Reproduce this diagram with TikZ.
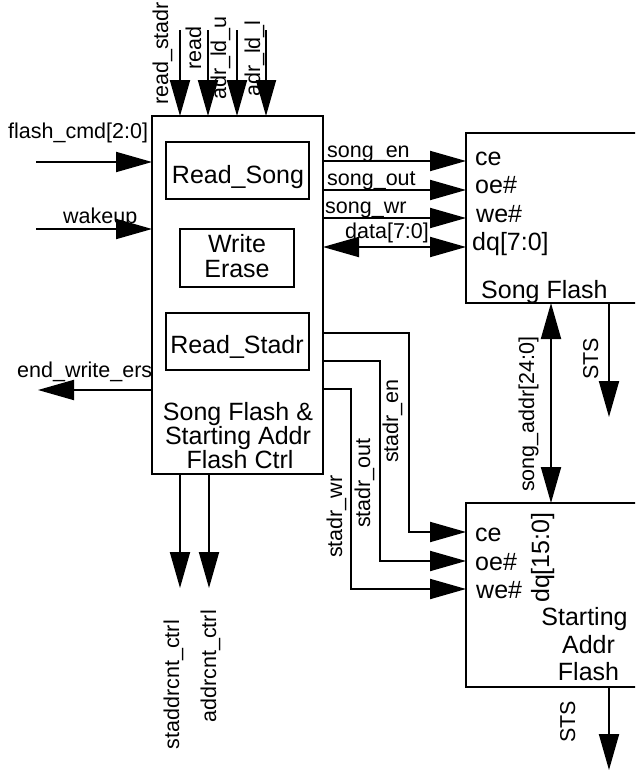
\documentclass[tikz,border=0pt]{standalone}
\usepackage{fontspec}
\setmainfont{Liberation Sans}
\usetikzlibrary{arrows.meta}
\begin{document}
\begin{tikzpicture}[x=1pt,y=-1pt,
  blk/.style={draw,line width=2.2pt,inner sep=0pt,outer sep=0pt},
  wire/.style={line width=2pt},
  arr/.style={wire,-{Triangle[length=36pt,width=20pt]}},
  barr/.style={wire,{Triangle[length=36pt,width=20pt]}-{Triangle[length=36pt,width=20pt]}},
  sm/.style={font=\fontsize{21.5}{24}\selectfont,inner sep=0pt},
  lg/.style={font=\fontsize{25}{27}\selectfont,inner sep=0pt}]
\useasboundingbox (0,0) rectangle (635,771);
\clip (0,0) rectangle (635,771);
\fill[white] (0,0) rectangle (635,771);

% main controller
\node[blk,minimum width=171pt,minimum height=358pt] (main) at (237.5,295) {};
\node[blk,minimum width=143pt,minimum height=57pt] (rsong) at (237.5,170.5) {};
\node[lg,anchor=base] (trsong) at (238,183) {Read\_Song};
\node[blk,minimum width=114pt,minimum height=58pt] (wer) at (237,258) {};
\node[lg,anchor=base] (twr) at (237,252) {Write};
\node[lg,anchor=base] (ter) at (237,277) {Erase};
\node[blk,minimum width=143pt,minimum height=57pt] (rstad) at (237.5,341.5) {};
\node[lg,anchor=base] (trstad) at (237,353) {Read\_Stadr};
\node[lg,anchor=base] (tm1) at (238,420) {Song Flash \&};
\node[lg,anchor=base] (tm2) at (238,444) {Starting Addr};
\node[lg,anchor=base] (tm3) at (240,468) {Flash Ctrl};

% song flash
\node[blk,minimum width=250pt,minimum height=170pt,anchor=north west] (sf) at (466,133) {};
\node[lg,anchor=base west] (sfce) at (475,165) {ce};
\node[lg,anchor=base west] (sfoe) at (475,193) {oe\#};
\node[lg,anchor=base west] (sfwe) at (476,222) {we\#};
\node[lg,anchor=base west] (sfdq) at (472,250) {dq[7:0]};
\node[lg,anchor=base west] (sfname) at (481,298) {Song Flash};

% starting addr flash
\node[blk,minimum width=250pt,minimum height=184pt,anchor=north west] (saf) at (466,503) {};
\node[lg,anchor=base west] (sace) at (475,541) {ce};
\node[lg,anchor=base west] (saoe) at (475,570) {oe\#};
\node[lg,anchor=base west] (sawe) at (476,598) {we\#};
\node[lg,rotate=90,anchor=base west] (sadq) at (549,603) {dq[15:0]};
\node[lg,anchor=base] (san1) at (584.5,625) {Starting};
\node[lg,anchor=base] (san2) at (588.5,653) {Addr};
\node[lg,anchor=base] (san3) at (588.5,680) {Flash};

% top inputs
\coordinate (i1) at (180,30);
\coordinate (i2) at (208,30);
\coordinate (i3) at (237,30);
\coordinate (i4) at (266,30);
\draw[arr] (i1) -- (i1 |- main.north);
\draw[arr] (i2) -- (i2 |- main.north);
\draw[arr] (i3) -- (i3 |- main.north);
\draw[arr] (i4) -- (i4 |- main.north);
\node[sm,rotate=90,anchor=base west] (lrs) at (168,105) {read\_stadr};
\node[sm,rotate=90,anchor=base west] (lrd) at (201,70) {read};
\node[sm,rotate=90,anchor=base west] (lau) at (226,100) {adr\_ld\_u};
\node[sm,rotate=90,anchor=base west] (lal) at (260,97) {adr\_ld\_l};

% left side
\coordinate (fc) at (36,162);
\coordinate (wk) at (36,229);
\coordinate (ew) at (38,390);
\draw[arr] (fc) -- (fc -| main.west);
\draw[arr] (wk) -- (wk -| main.west);
\draw[arr] (ew -| main.west) -- (ew);
\node[sm,anchor=base west] (lfc) at (8,138) {flash\_cmd[2:0]};
\node[sm,anchor=base west] (lwk) at (63,223) {wakeup};
\node[sm,anchor=base west] (lew) at (17,377) {end\_write\_ers};

% song flash signals
\coordinate (y1) at (0,161);
\coordinate (y2) at (0,190);
\coordinate (y3) at (0,218);
\coordinate (y4) at (0,247);
\draw[arr] (main.east |- y1) -- (sf.west |- y1);
\draw[arr] (main.east |- y2) -- (sf.west |- y2);
\draw[arr] (main.east |- y3) -- (sf.west |- y3);
\draw[barr] (main.east |- y4) -- (sf.west |- y4);
\node[sm,anchor=base west] (lse) at (327,157) {song\_en};
\node[sm,anchor=base west] (lso) at (327,185) {song\_out};
\node[sm,anchor=base west] (lsw) at (325,213) {song\_wr};
\node[sm,anchor=base west] (ldt) at (345,238) {data[7:0]};

% song addr and STS
\coordinate (sax) at (551,0);
\draw[barr] (sax |- sf.south) -- (sax |- saf.north);
\node[sm,rotate=90,anchor=base west] (lsa) at (534,492) {song\_addr[24:0]};
\coordinate (st1) at (609,417);
\draw[arr] (st1 |- sf.south) -- (st1);
\node[sm,rotate=90,anchor=base west] (lst1) at (598,380) {STS};
\coordinate (st2) at (609,770);
\draw[arr] (st2 |- saf.south) -- (st2);
\node[sm,rotate=90,anchor=base west] (lst2) at (575,743) {STS};

% stadr signals
\coordinate (e1) at (409,333);
\coordinate (e2) at (380,361);
\coordinate (e3) at (351,389);
\coordinate (c1) at (0,532);
\coordinate (c2) at (0,561);
\coordinate (c3) at (0,589);
\draw[arr] (main.east |- e1) -- (e1) -- (e1 |- c1) -- (saf.west |- c1);
\draw[arr] (main.east |- e2) -- (e2) -- (e2 |- c2) -- (saf.west |- c2);
\draw[arr] (main.east |- e3) -- (e3) -- (e3 |- c3) -- (saf.west |- c3);
\node[sm,rotate=90,anchor=base west] (lsen) at (398,463) {stadr\_en};
\node[sm,rotate=90,anchor=base west] (lsout) at (370,528) {stadr\_out};
\node[sm,rotate=90,anchor=base west] (lswr) at (342,558) {stadr\_wr};

% bottom outputs
\coordinate (b1) at (180,588);
\coordinate (b2) at (209,588);
\draw[arr] (b1 |- main.south) -- (b1);
\draw[arr] (b2 |- main.south) -- (b2);
\node[sm,rotate=90,anchor=base east] (lb1) at (179,620) {staddrcnt\_ctrl};
\node[sm,rotate=90,anchor=base east] (lb2) at (216,610) {addrcnt\_ctrl};
\end{tikzpicture}
\end{document}
